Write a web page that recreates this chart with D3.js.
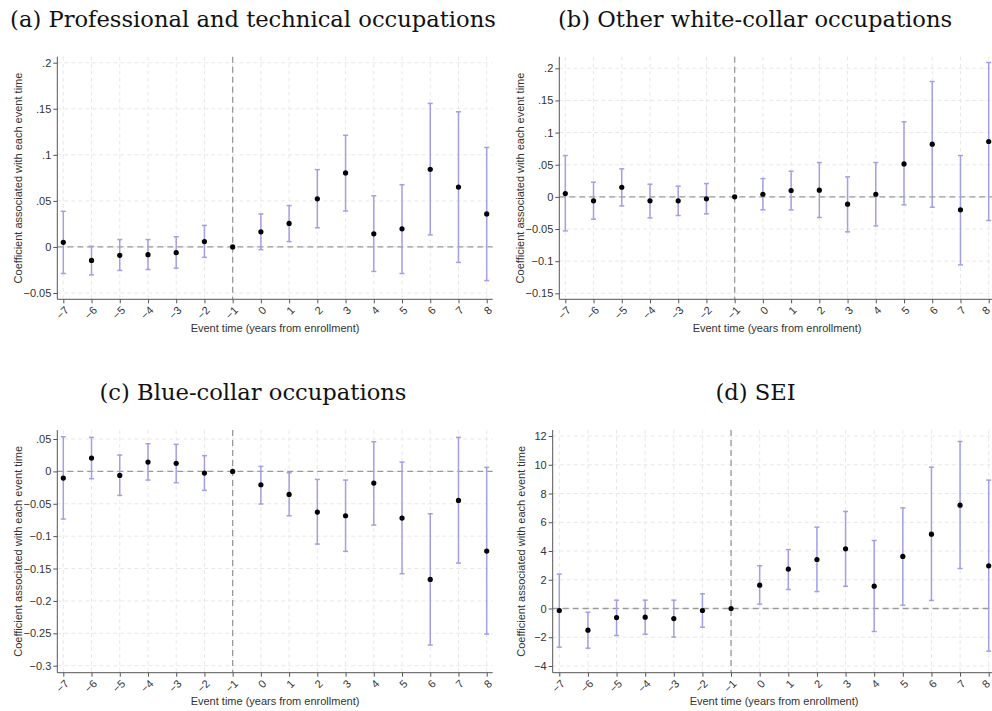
<!DOCTYPE html>
<html>
<head>
<meta charset="utf-8">
<script src="https://cdn.jsdelivr.net/npm/d3@7"></script>
<style>
  body { margin: 0; background: #fff; }
  svg { display: block; }
  .tick text { font-family: "Liberation Sans", Arial, sans-serif; font-size: 11px; fill: #333; }
</style>
</head>
<body>
<div id="chart"></div>
<script>
// event times on the x axis
const eventTimes = [-7, -6, -5, -4, -3, -2, -1, 0, 1, 2, 3, 4, 5, 6, 7, 8];

// (a) Professional and technical occupations
const profCoef = [0.005, -0.0146, -0.0091, -0.0084, -0.0062, 0.0058, 0, 0.0164, 0.0255, 0.0522, 0.0803, 0.0142, 0.0197, 0.0843, 0.065, 0.0358];
const profLo   = [-0.0288, -0.0303, -0.0255, -0.0245, -0.023, -0.0113, null, -0.0029, 0.0058, 0.0208, 0.039, -0.0266, -0.0288, 0.0131, -0.0168, -0.0365];
const profHi   = [0.0387, 0.0007, 0.008, 0.008, 0.011, 0.0234, null, 0.0358, 0.0449, 0.0839, 0.1212, 0.0555, 0.0675, 0.1558, 0.1467, 0.108];
const profTicks = [-0.05, 0, 0.05, 0.1, 0.15, 0.2];

// (b) Other white-collar occupations
const whiteCoef = [0.0052, -0.0062, 0.015, -0.0062, -0.0062, -0.0031, 0, 0.0041, 0.0099, 0.0104, -0.0114, 0.0041, 0.0513, 0.0819, -0.0202, 0.0861];
const whiteLo   = [-0.0529, -0.0347, -0.014, -0.0327, -0.029, -0.0264, null, -0.0202, -0.0202, -0.0321, -0.0544, -0.0451, -0.0124, -0.0161, -0.1058, -0.0368];
const whiteHi   = [0.0643, 0.0228, 0.0436, 0.0197, 0.0166, 0.0207, null, 0.0285, 0.0399, 0.0534, 0.0311, 0.0534, 0.1167, 0.1794, 0.0643, 0.209];
const whiteTicks = [-0.15, -0.1, -0.05, 0, 0.05, 0.1, 0.15, 0.2];

// (c) Blue-collar occupations
const blueCoef = [-0.0103, 0.0206, -0.0062, 0.0144, 0.0124, -0.0026, 0, -0.0206, -0.0355, -0.0628, -0.0685, -0.018, -0.0721, -0.1668, -0.0448, -0.123];
const blueLo   = [-0.0736, -0.0113, -0.0371, -0.0134, -0.0175, -0.0293, null, -0.0504, -0.0685, -0.1122, -0.1235, -0.0829, -0.158, -0.2682, -0.1415, -0.2512];
const blueHi   = [0.0535, 0.0525, 0.0252, 0.0427, 0.0417, 0.0242, null, 0.0077, -0.0021, -0.0124, -0.0134, 0.0458, 0.0144, -0.0654, 0.0525, 0.0062];
const blueTicks = [-0.3, -0.25, -0.2, -0.15, -0.1, -0.05, 0, 0.05];

// (d) SEI
const seiCoef = [-0.14, -1.51, -0.63, -0.6, -0.7, -0.14, 0, 1.62, 2.74, 3.41, 4.15, 1.55, 3.62, 5.17, 7.19, 2.97];
const seiLo   = [-2.69, -2.76, -1.88, -1.79, -1.99, -1.3, null, 0.3, 1.32, 1.18, 1.55, -1.6, 0.23, 0.56, 2.78, -2.97];
const seiHi   = [2.39, -0.26, 0.58, 0.58, 0.58, 1.02, null, 2.97, 4.1, 5.66, 6.75, 4.73, 7.0, 9.83, 11.62, 8.93];
const seiTicks = [-4, -2, 0, 2, 4, 6, 8, 10, 12];

const yTitle = 'Coefficient associated with each event time';
const xTitle = 'Event time (years from enrollment)';

const stataFmt = v => {
  if (v === 0) return '0';
  return d3.format('~g')(v).replace('-0.', '-.').replace(/^0\./, '.');
};

// panel boxes (pixel layout)
const panels = [
  { title: '(a) Professional and technical occupations', tx: 253, ty: 27,
    left: 57.3, right: 492.7, top: 56.7, bottom: 299.3, xr: [63.3, 486.7],
    ticks: profTicks, yr: [293, 62.7], coef: profCoef, lo: profLo, hi: profHi, ytx: 18, xtx: 275, xty: 332 },
  { title: '(b) Other white-collar occupations', tx: 755, ty: 27,
    left: 559.3, right: 995, top: 56.7, bottom: 299.3, xr: [565.3, 988.7],
    ticks: whiteTicks, yr: [293.3, 68.3], coef: whiteCoef, lo: whiteLo, hi: whiteHi, ytx: 520, xtx: 777, xty: 332 },
  { title: '(c) Blue-collar occupations', tx: 253, ty: 400,
    left: 57.3, right: 492.7, top: 430, bottom: 672.7, xr: [63.3, 486.7],
    ticks: blueTicks, yr: [665.7, 439], coef: blueCoef, lo: blueLo, hi: blueHi, ytx: 18, xtx: 275, xty: 705 },
  { title: '(d) SEI', tx: 755.6, ty: 400,
    left: 552.7, right: 995, top: 430, bottom: 672.7, xr: [559.3, 988.7],
    ticks: seiTicks, yr: [666, 436], coef: seiCoef, lo: seiLo, hi: seiHi, ytx: 521, xtx: 774, xty: 705 }
];

const svg = d3.select('#chart').append('svg')
  .attr('width', 992)
  .attr('height', 711);

// fit serif title size so panel (a) title spans ~486px like the original
const titleFont = '"DejaVu Serif", "Liberation Serif", serif';
const probe = svg.append('text')
  .style('font-family', titleFont).style('font-size', '22px')
  .text(panels[0].title);
const titleSize = Math.min(24, 22 * 486 / probe.node().getComputedTextLength());
probe.remove();

panels.forEach(p => {
  const g = svg.append('g');

  const x = d3.scaleLinear().domain([-7, 8]).range(p.xr);
  const y = d3.scaleLinear().domain([p.ticks[0], p.ticks[p.ticks.length - 1]]).range(p.yr);

  // title
  g.append('text')
    .attr('x', p.tx).attr('y', p.ty)
    .attr('text-anchor', 'middle')
    .style('font-family', titleFont)
    .style('font-size', titleSize + 'px')
    .attr('fill', '#111')
    .text(p.title);

  // grid
  g.append('g').selectAll('line')
    .data(eventTimes).enter().append('line')
    .attr('x1', d => x(d)).attr('x2', d => x(d))
    .attr('y1', p.top).attr('y2', p.bottom)
    .attr('stroke', '#e8e8e8').attr('stroke-dasharray', '4,3');
  g.append('g').selectAll('line')
    .data(p.ticks).enter().append('line')
    .attr('x1', p.left).attr('x2', p.right)
    .attr('y1', d => y(d)).attr('y2', d => y(d))
    .attr('stroke', '#e8e8e8').attr('stroke-dasharray', '4,3');

  // reference lines
  g.append('line')
    .attr('x1', p.left).attr('x2', p.right)
    .attr('y1', y(0)).attr('y2', y(0))
    .attr('stroke', '#9a9a9a').attr('stroke-width', 1.3).attr('stroke-dasharray', '6,4');
  g.append('line')
    .attr('x1', x(-1)).attr('x2', x(-1))
    .attr('y1', p.top).attr('y2', p.bottom)
    .attr('stroke', '#9a9a9a').attr('stroke-width', 1.3).attr('stroke-dasharray', '6,4');

  // error bars
  const idx = eventTimes.map((d, i) => i).filter(i => p.lo[i] !== null);
  const bars = g.append('g').attr('stroke', '#a29fe4').attr('stroke-width', 1.5);
  bars.selectAll('.ci').data(idx).enter().append('line')
    .attr('x1', i => x(eventTimes[i])).attr('x2', i => x(eventTimes[i]))
    .attr('y1', i => y(p.lo[i])).attr('y2', i => y(p.hi[i]));
  bars.selectAll('.caplo').data(idx).enter().append('line')
    .attr('x1', i => x(eventTimes[i]) - 2.5).attr('x2', i => x(eventTimes[i]) + 2.5)
    .attr('y1', i => y(p.lo[i])).attr('y2', i => y(p.lo[i]));
  bars.selectAll('.caphi').data(idx).enter().append('line')
    .attr('x1', i => x(eventTimes[i]) - 2.5).attr('x2', i => x(eventTimes[i]) + 2.5)
    .attr('y1', i => y(p.hi[i])).attr('y2', i => y(p.hi[i]));

  // points
  g.append('g').selectAll('circle')
    .data(p.coef).enter().append('circle')
    .attr('cx', (d, i) => x(eventTimes[i]))
    .attr('cy', d => y(d))
    .attr('r', 2.6)
    .attr('fill', '#000');

  // y axis
  const ya = g.append('g')
    .attr('transform', `translate(${p.left},0)`)
    .call(d3.axisLeft(y).tickValues(p.ticks).tickFormat(stataFmt).tickSize(4).tickPadding(2));
  ya.select('.domain').remove();
  ya.selectAll('.tick line').attr('stroke', '#555');
  g.append('line')
    .attr('x1', p.left).attr('x2', p.left)
    .attr('y1', p.top).attr('y2', p.bottom)
    .attr('stroke', '#555');

  // x axis
  const xa = g.append('g')
    .attr('transform', `translate(0,${p.bottom})`)
    .call(d3.axisBottom(x).tickValues(eventTimes).tickFormat(d3.format('d')).tickSize(4));
  xa.select('.domain').remove();
  xa.selectAll('.tick line').attr('stroke', '#555');
  xa.selectAll('.tick text')
    .attr('x', 0).attr('y', 0).attr('dy', '0.35em')
    .attr('text-anchor', 'end')
    // keep the last label inside the page when the panel reaches the right edge
    .attr('transform', d => (x(d) > 985 ? 'translate(-1,9)' : 'translate(3,9)') + ' rotate(-45)');
  g.append('line')
    .attr('x1', p.left).attr('x2', p.right)
    .attr('y1', p.bottom).attr('y2', p.bottom)
    .attr('stroke', '#555');

  // axis titles
  g.append('text')
    .attr('transform', `translate(${p.ytx},${(p.top + p.bottom) / 2}) rotate(-90)`)
    .attr('text-anchor', 'middle')
    .attr('dy', '0.35em')
    .style('font-family', '"Liberation Sans", Arial, sans-serif')
    .style('font-size', '11px')
    .attr('fill', '#333')
    .text(yTitle);
  g.append('text')
    .attr('x', p.xtx).attr('y', p.xty)
    .attr('text-anchor', 'middle')
    .style('font-family', '"Liberation Sans", Arial, sans-serif')
    .style('font-size', '11px')
    .attr('fill', '#333')
    .text(xTitle);
});
</script>
</body>
</html>
